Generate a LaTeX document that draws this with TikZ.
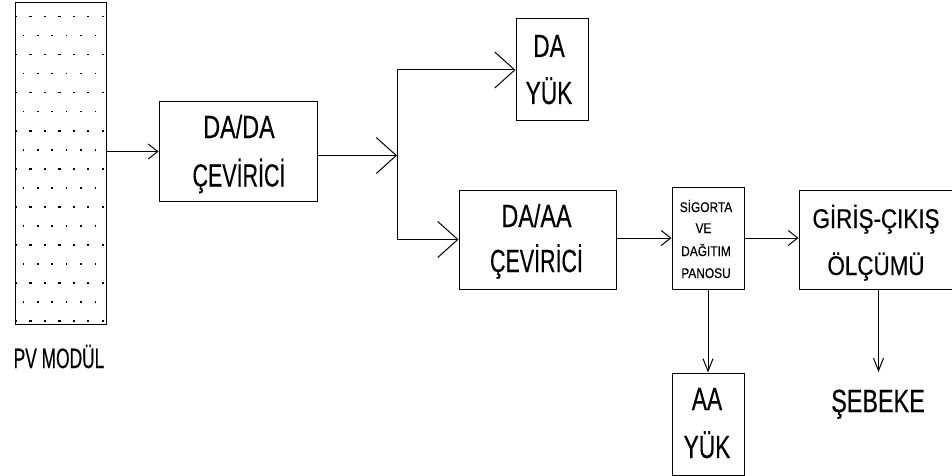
\documentclass[tikz,border=0pt]{standalone}
\usepackage{fontspec}
\setmainfont{Liberation Sans}[FakeBold=0.4]
\usetikzlibrary{arrows.meta}
\newcommand\sx[2]{\scalebox{#1}[1]{#2}}
\begin{document}
\begin{tikzpicture}[x=1pt,y=-1pt,
  box/.style={draw, line width=1pt, rectangle, inner sep=0pt},
  wire/.style={line width=1pt},
  bigtip/.style={-{Straight Barb[length=20pt,width=36pt]}},
  smalltip/.style={-{Straight Barb[length=9.5pt,width=15pt]}},
  downtip/.style={-{Straight Barb[length=12.5pt,width=10pt]}},
  lbl/.style={anchor=base, inner sep=0pt},
  big/.style={lbl, font=\fontsize{32}{38}\selectfont},
  mid/.style={lbl, font=\fontsize{27}{32}\selectfont},
  pvt/.style={lbl, font=\fontsize{28}{34}\selectfont},
  tiny/.style={lbl, font=\fontsize{14}{17}\selectfont},
  dotc/.style={fill=black}
]
\useasboundingbox[fill=white] (0,0) rectangle (952,476);

% boxes
\node[box, minimum width=91pt, minimum height=321pt] (pv) at (60.5,163.5) {};
\node[box, minimum width=158pt, minimum height=99pt] (dada) at (238,151.5) {};
\node[box, minimum width=72pt, minimum height=102pt] (dayuk) at (552,70) {};
\node[box, minimum width=157pt, minimum height=99pt] (daaa) at (537.5,239.5) {};
\node[box, minimum width=72pt, minimum height=102pt] (sig) at (708,238) {};
\node[box, minimum width=159pt, minimum height=99pt] (giris) at (878.5,239.5) {};
\node[box, minimum width=72pt, minimum height=102pt] (aayuk) at (708,424) {};

% PV dots
\foreach \k in {0,2,...,16}
  \foreach \i in {0,...,6}
    \fill[dotc] (16+14.45*\i-1.2, 16.7+19*\k-0.8) rectangle ++(2.4,1.6);
\foreach \k in {1,3,...,15}
  \foreach \i in {0,...,5}
    \fill[dotc] (23.3+14.45*\i-0.8, 16.7+19*\k-0.8) rectangle ++(1.6,1.6);

% texts
\node[pvt] (pvt) at (59,368) {\sx{0.62}{PV MODÜL}};
\node[big] (dada1) at (239,138) {\sx{0.73}{DA/DA}};
\node[big] (dada2) at (239,186.5) {\sx{0.67}{ÇEVİRİCİ}};
\node[big] (dayuk1) at (549,57) {\sx{0.71}{DA}};
\node[big] (dayuk2) at (549,104) {\sx{0.71}{YÜK}};
\node[big] (daaa1) at (536.5,227) {\sx{0.73}{DA/AA}};
\node[big] (daaa2) at (536.5,272) {\sx{0.67}{ÇEVİRİCİ}};
\node[tiny] (sig1) at (706,212) {\sx{0.85}{SİGORTA}};
\node[tiny] (sig2) at (703.5,233) {\sx{0.85}{VE}};
\node[tiny] (sig3) at (706,256) {\sx{0.85}{DAĞITIM}};
\node[tiny] (sig4) at (706,278) {\sx{0.85}{PANOSU}};
\node[mid] (giris1) at (876,228) {\sx{0.83}{GİRİŞ-ÇIKIŞ}};
\node[mid] (giris2) at (876,275) {\sx{0.83}{ÖLÇÜMÜ}};
\node[big] (aayuk1) at (707,410) {\sx{0.71}{AA}};
\node[big] (aayuk2) at (707,458) {\sx{0.71}{YÜK}};
\node[big] (sebeke) at (878,412) {\sx{0.73}{ŞEBEKE}};

% connectors
\coordinate (j) at (397,155.5);
\coordinate (jt) at (j |- dayuk.west);
\coordinate (jb) at (j |- daaa.west);
\coordinate (seb) at (878.5,372);
\draw[wire,smalltip] (pv.east |- dada.west) -- (dada.west);
\draw[wire,bigtip] ([yshift=-4pt]dada.east) -- (j);
\draw[wire] (jt) -- (jb);
\draw[wire,bigtip] (jt) -- (dayuk.west);
\draw[wire,bigtip] (jb) -- (daaa.west);
\draw[wire,smalltip] (sig.west -| daaa.east) -- (sig.west);
\draw[wire,smalltip] (sig.east) -- (sig.east -| giris.west);
\draw[wire,downtip] (sig.south) -- (aayuk.north);
\draw[wire,downtip] (giris.south) -- (seb);
\end{tikzpicture}
\end{document}
